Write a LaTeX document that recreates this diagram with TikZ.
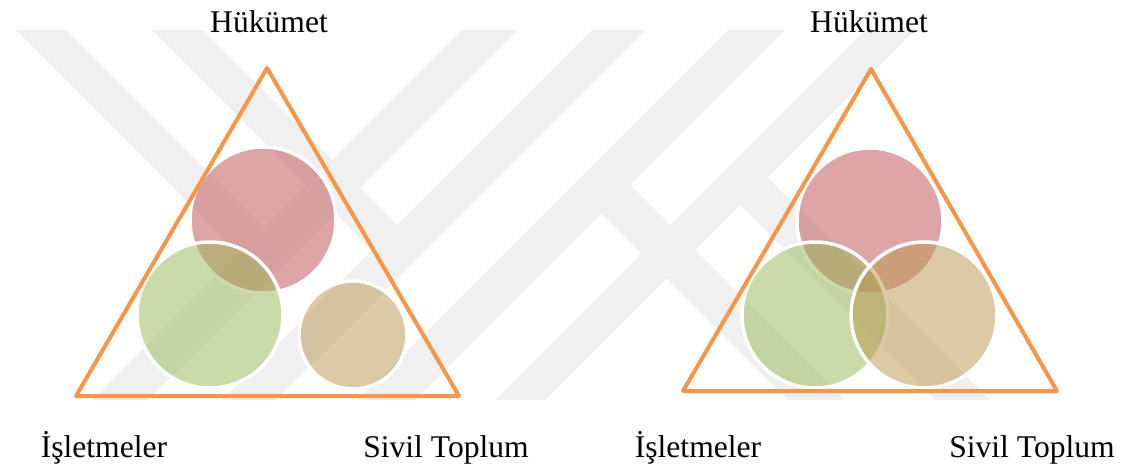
\documentclass[tikz,border=0pt]{standalone}
\usepackage{fontspec}
\setmainfont{Liberation Serif}
\usetikzlibrary{positioning}
\definecolor{trorange}{HTML}{F79646}
\definecolor{hkmred}{RGB}{191,77,79}
\definecolor{islgreen}{RGB}{151,185,85}
\definecolor{svltan}{RGB}{185,151,77}
\tikzset{set node/.style={circle,draw=white,line width=3.5pt,fill opacity=0.5,minimum size=146pt,inner sep=0pt}}
\tikzset{side/.style={draw=trorange,line width=4pt,line join=round}}
\tikzset{actor label/.style={font=\fontsize{31.6}{38}\selectfont,anchor=base,inner sep=0pt}}
\tikzset{wmark/.style={fill=black!6}}

\begin{document}
\begin{tikzpicture}[x=1pt,y=-1pt]
            \useasboundingbox[fill=white] (0,0) rectangle (1127,472);

            % watermark stripes
            \foreach \s/\w in {492/56, 622/54, 758/57, 895/50}
                \fill[wmark] (\s-30,30) -- (\s+\w-30,30) -- (\s+\w-400,400) -- (\s-400,400) -- cycle;
            \foreach \d/\w/\c in {-14/50/530, 122/51/650}
                \fill[wmark] (\d+30,30) -- (\d+\w+30,30) -- ({(\c+\d+\w)/2},{(\c-\d-\w)/2}) -- ({(\c+\d)/2},{(\c-\d)/2}) -- cycle;
            \foreach \d/\w/\c in {388/57/790, 535/55/920}
                \fill[wmark] ({(\c+\d)/2},{(\c-\d)/2}) -- ({(\c+\d+\w)/2},{(\c-\d-\w)/2}) -- (\d+\w+400,400) -- (\d+400,400) -- cycle;

            % left: separate sets
            \node[set node, fill=hkmred] (hkmA) at (263,220) {};
            \node[set node, fill=islgreen] (islA) at (210,315) {};
            \node[set node, fill=svltan, minimum size=108pt] (svlA) at (353,335) {};

            \coordinate (topA) at (267,68);
            \coordinate (leftA) at (76,396);
            \coordinate (rightA) at (459,396);
            \draw[side] (topA) -- (leftA) -- (rightA) -- cycle;

            % right: overlapping sets
            \node[set node, fill=hkmred] (hkmB) at (870,221) {};
            \node[set node, fill=islgreen] (islB) at (815,315) {};
            \node[set node, fill=svltan] (svlB) at (924,315) {};

            \coordinate (topB) at (871,69);
            \coordinate (leftB) at (683,391);
            \coordinate (rightB) at (1057,391);
            \draw[side] (topB) -- (leftB) -- (rightB) -- cycle;

            % labels
            \node[actor label] (govA) at (269,32) {Hükümet};
            \node[actor label] (bizA) at (104,457) {İşletmeler};
            \node[actor label] (civA) at (446,457) {Sivil Toplum};
            \node[actor label] (govB) at (869,32) {Hükümet};
            \node[actor label] (bizB) at (698,457) {İşletmeler};
            \node[actor label] (civB) at (1032,457) {Sivil Toplum};
        \end{tikzpicture}
\end{document}
